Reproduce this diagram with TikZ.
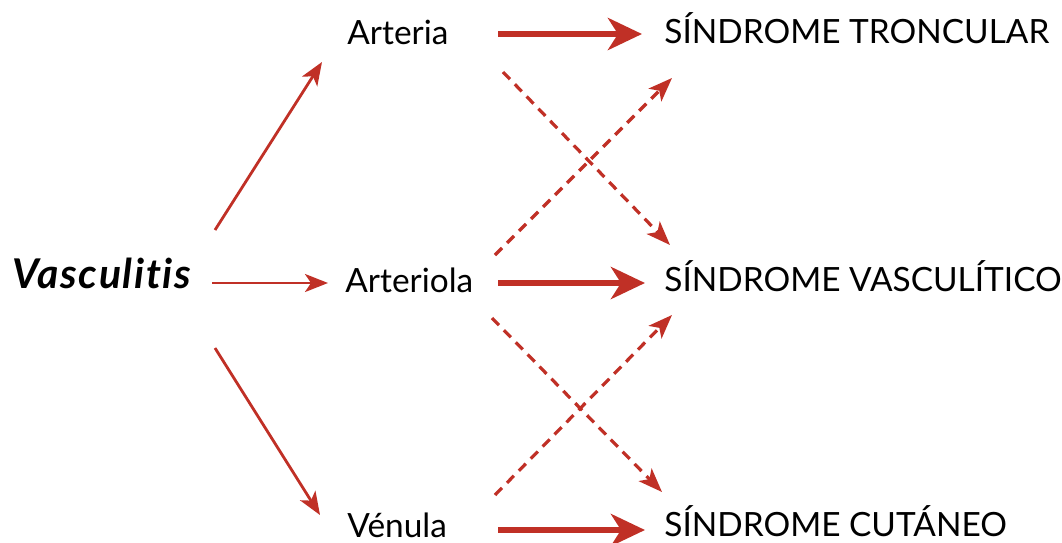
\documentclass[tikz,border=0pt]{standalone}
\usepackage{fontspec}
\setmainfont[Ligatures=NoCommon]{Lato}
\usetikzlibrary{arrows.meta,calc}
\definecolor{vred}{RGB}{192,48,38}

\begin{document}
\begin{tikzpicture}[x=0.5pt,y=-0.5pt,
  label/.style={inner sep=0pt,anchor=base west,font=\fontsize{16.7}{18}\selectfont},
  thinarrow/.style={draw=vred,line width=1.4pt,-{Stealth[length=11.5pt,width=9pt,inset=3pt]}},
  thickarrow/.style={draw=vred,line width=3.4pt,-{Stealth[length=17pt,width=16pt,inset=5pt]}},
  dasharrow/.style={draw=vred,line width=1.6pt,dash pattern=on 5pt off 3.5pt,-{Stealth[length=12pt,width=9pt,inset=3pt]}}]
\useasboundingbox (0,0) rectangle (1062,542);

% Labels
\node[label,font=\fontsize{20.5}{22}\selectfont\bfseries\itshape\addfontfeatures{LetterSpace=4}] (vasc) at (12,288) {Vasculitis};
\node[label] (arteria) at (347,44) {Arteria};
\node[label] (arteriola) at (345,292) {Arteriola};
\node[label] (venula) at (347,537) {Vénula};
\node[label] (tronc) at (664,43) {SÍNDROME TRONCULAR};
\node[label] (vascsd) at (664,291) {SÍNDROME VASCULÍTICO};
\node[label] (cutan) at (664,536) {SÍNDROME CUTÁNEO};

% Vasculitis to vessels
\draw[thinarrow] ($(vasc.base west)+(203,-58)$) -- ($(arteria.base west)+(-25,18)$);
\draw[thinarrow] ($(vasc.base west)+(200,-5)$) -- ($(arteriola.base west)+(-17,-9)$);
\draw[thinarrow] ($(vasc.base west)+(203,60)$) -- ($(venula.base west)+(-27,-22)$);

% Vessels to syndromes
\draw[thickarrow] ($(arteria.base west)+(151,-10)$) -- ($(tronc.base west)+(-22,-9)$);
\draw[thickarrow] ($(arteriola.base west)+(153,-9)$) -- ($(vascsd.base west)+(-19,-8)$);
\draw[thickarrow] ($(venula.base west)+(151,-7)$) -- ($(cutan.base west)+(-19,-6)$);

% Crossed links
\draw[dasharrow] ($(arteria.base west)+(156,28)$) -- ($(vascsd.base west)+(6,-46)$);
\draw[dasharrow] ($(arteriola.base west)+(150,-37)$) -- ($(tronc.base west)+(8,35)$);
\draw[dasharrow] ($(arteriola.base west)+(147,26)$) -- ($(cutan.base west)+(-2,-44)$);
\draw[dasharrow] ($(venula.base west)+(148,-42)$) -- ($(vascsd.base west)+(8,24)$);
\end{tikzpicture}
\end{document}
